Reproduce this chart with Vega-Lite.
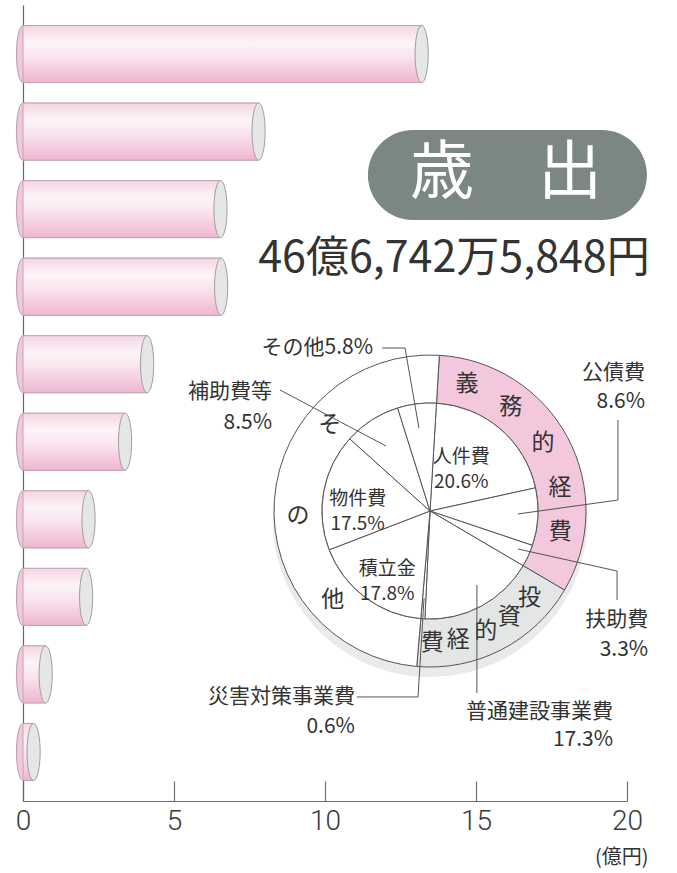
{
  "$schema": "https://vega.github.io/schema/vega-lite/v6.json",
  "width": 604,
  "height": 796,
  "autosize": {"type": "none"},
  "padding": {"left": 23, "top": 5, "right": 50, "bottom": 72},
  "background": "white",
  "config": {"view": {"stroke": null}, "font": "Noto Sans CJK JP"},
  "datasets": {
    "bars": [
      {"item": "1", "val": 13.2}, {"item": "2", "val": 7.8}, {"item": "3", "val": 6.54},
      {"item": "4", "val": 6.56}, {"item": "5", "val": 4.11}, {"item": "6", "val": 3.38},
      {"item": "7", "val": 2.17}, {"item": "8", "val": 2.09}, {"item": "9", "val": 0.75},
      {"item": "10", "val": 0.35}
    ],
    "pie": [
      {"name": "人件費", "pct": 20.6, "ord": 1}, {"name": "公債費", "pct": 8.6, "ord": 2},
      {"name": "扶助費", "pct": 3.3, "ord": 3}, {"name": "普通建設事業費", "pct": 17.3, "ord": 4},
      {"name": "災害対策事業費", "pct": 0.6, "ord": 5}, {"name": "積立金", "pct": 17.8, "ord": 6},
      {"name": "物件費", "pct": 17.5, "ord": 7}, {"name": "補助費等", "pct": 8.5, "ord": 8},
      {"name": "その他", "pct": 5.8, "ord": 9}
    ],
    "ring": [
      {"grp": "義務的経費", "pct": 32.5, "ord": 1},
      {"grp": "投資的経費", "pct": 17.9, "ord": 2},
      {"grp": "その他", "pct": 49.6, "ord": 3}
    ],
    "plab": [
      {"t": "人件費\n20.6%", "th": 7.4, "r": 40},
      {"t": "物件費\n17.5%", "th": 76.6, "r": 47},
      {"t": "積立金\n17.8%", "th": 59.2, "r": 46}
    ],
    "rchar": [
      {"c": "義", "th": 3.56}, {"c": "務", "th": 9.53}, {"c": "的", "th": 15.39},
      {"c": "経", "th": 21.28}, {"c": "費", "th": 26.64},
      {"c": "投", "th": 35.44}, {"c": "資", "th": 38.78}, {"c": "的", "th": 42.11},
      {"c": "経", "th": 45.61}, {"c": "費", "th": 48.78},
      {"c": "他", "th": 62.22}, {"c": "の", "th": 73.5}, {"c": "そ", "th": 85.31}
    ],
    "leaders": [
      {"id": 1, "o": 1, "x": 11.89, "y": 43.09}, {"id": 1, "o": 2, "x": 12.65, "y": 43.09}, {"id": 1, "o": 3, "x": 13.11, "y": 53.14},
      {"id": 2, "o": 1, "x": 8.51, "y": 48.37}, {"id": 2, "o": 2, "x": 12.02, "y": 55.4},
      {"id": 3, "o": 1, "x": 19.7, "y": 52.14}, {"id": 3, "o": 2, "x": 19.7, "y": 62.19}, {"id": 3, "o": 3, "x": 16.39, "y": 63.94},
      {"id": 4, "o": 1, "x": 16.39, "y": 68.34}, {"id": 4, "o": 2, "x": 19.67, "y": 71.11}, {"id": 4, "o": 3, "x": 19.67, "y": 74.75},
      {"id": 5, "o": 1, "x": 11.06, "y": 86.93}, {"id": 5, "o": 2, "x": 13.08, "y": 86.93}, {"id": 5, "o": 3, "x": 13.28, "y": 74.5},
      {"id": 6, "o": 1, "x": 15.03, "y": 72.86}, {"id": 6, "o": 2, "x": 15.03, "y": 86.43}
    ],
    "olab": [
      {"t": "その他5.8%", "x": 11.59, "y": 43.09},
      {"t": "補助費等", "x": 8.245, "y": 48.62},
      {"t": "8.5%", "x": 8.245, "y": 52.51},
      {"t": "公債費", "x": 20.6, "y": 46.23},
      {"t": "8.6%", "x": 20.6, "y": 49.87},
      {"t": "扶助費", "x": 20.7, "y": 77.26},
      {"t": "3.3%", "x": 20.7, "y": 81.03},
      {"t": "災害対策事業費", "x": 10.99, "y": 86.93},
      {"t": "0.6%", "x": 10.99, "y": 90.7},
      {"t": "普通建設事業費", "x": 19.54, "y": 88.82},
      {"t": "17.3%", "x": 19.54, "y": 92.34}
    ]
  },
  "layer": [
    {
      "data": {"name": "bars"},
      "layer": [
        {
          "mark": {"type": "bar", "orient": "horizontal", "stroke": "#c3a3b3", "strokeWidth": 1,
            "color": {"gradient": "linear", "x1": 0, "y1": 0, "x2": 0, "y2": 1,
              "stops": [{"offset": 0, "color": "#f5d5e4"}, {"offset": 0.3, "color": "#fdf4f8"}, {"offset": 0.55, "color": "#f9e3ee"}, {"offset": 1, "color": "#efb6d1"}]}},
          "encoding": {
            "x": {"field": "val", "type": "quantitative", "scale": {"domain": [0, 20], "nice": false},
              "axis": {"values": [0, 5, 10, 15, 20], "title": null, "grid": false, "domainColor": "#707070", "domainWidth": 1.2,
                "tickColor": "#707070", "tickWidth": 1.2, "tickSize": -20, "labelPadding": 26, "labelFontSize": 28,
                "labelColor": "#3a3a3a", "labelFont": "Roboto", "labelFontWeight": 300, "labelFlush": false}},
            "y": {"field": "item", "type": "nominal", "sort": null, "scale": {"paddingInner": 0.265, "paddingOuter": 0.265},
              "axis": {"labels": false, "ticks": false, "title": null, "domainColor": "#666", "domainWidth": 1.2}}
          }
        },
        {
          "mark": {"type": "point", "filled": true, "opacity": 1, "fill": "#f1c9dc", "stroke": "#b99aaa", "strokeWidth": 1,
            "shape": "M0,-1 C0.127,-1 0.23,-0.552 0.23,0 C0.23,0.552 0.127,1 0,1 C-0.127,1 -0.23,0.552 -0.23,0 C-0.23,-0.552 -0.127,-1 0,-1 Z",
            "size": 3249, "zindex": 0},
          "encoding": {
            "x": {"datum": 0, "type": "quantitative"},
            "y": {"field": "item", "type": "nominal", "sort": null}
          }
        },
        {
          "mark": {"type": "bar", "orient": "horizontal", "stroke": "#c3a3b3", "strokeWidth": 1,
            "color": {"gradient": "linear", "x1": 0, "y1": 0, "x2": 0, "y2": 1,
              "stops": [{"offset": 0, "color": "#f5d5e4"}, {"offset": 0.3, "color": "#fdf4f8"}, {"offset": 0.55, "color": "#f9e3ee"}, {"offset": 1, "color": "#efb6d1"}]}},
          "encoding": {
            "x": {"field": "val", "type": "quantitative"},
            "y": {"field": "item", "type": "nominal", "sort": null}
          }
        },
        {
          "mark": {"type": "point", "filled": true, "opacity": 1, "fill": "#e5e7e7", "stroke": "#9c9c9c", "strokeWidth": 1,
            "shape": "M0,-1 C0.127,-1 0.23,-0.552 0.23,0 C0.23,0.552 0.127,1 0,1 C-0.127,1 -0.23,0.552 -0.23,0 C-0.23,-0.552 -0.127,-1 0,-1 Z",
            "size": 3249},
          "encoding": {
            "x": {"field": "val", "type": "quantitative"},
            "y": {"field": "item", "type": "nominal", "sort": null}
          }
        }
      ]
    },
    {
      "layer": [
        {
          "data": {"values": [{"pct": 100}]},
          "mark": {"type": "arc", "fill": "#c4c4c4", "opacity": 0.35},
          "encoding": {
            "theta": {"field": "pct", "type": "quantitative", "stack": true, "scale": {"domain": [0, 100], "range": [0.06, 6.3432]}},
            "radius": {"value": 157},
            "x": {"datum": 13.48, "type": "quantitative"},
            "y": {"datum": 64.7, "type": "quantitative", "scale": {"domain": [0, 100], "reverse": true}, "axis": null}
          }
        },
        {
          "data": {"name": "ring"},
          "mark": {"type": "arc", "stroke": "#555", "strokeWidth": 1},
          "encoding": {
            "theta": {"field": "pct", "type": "quantitative", "stack": true, "scale": {"domain": [0, 100], "range": [0.06, 6.3432]}},
            "order": {"field": "ord", "type": "quantitative"},
            "color": {"field": "grp", "type": "nominal", "legend": null,
              "scale": {"domain": ["義務的経費", "投資的経費", "その他"], "range": ["#f4c8dc", "#e3e6e5", "#ffffff"]}},
            "radius": {"value": 156},
            "radius2": {"value": 108},
            "x": {"datum": 13.477, "type": "quantitative"},
            "y": {"datum": 63.57, "type": "quantitative", "scale": {"domain": [0, 100], "reverse": true}, "axis": null}
          }
        },
        {
          "data": {"name": "pie"},
          "mark": {"type": "arc", "stroke": "#555", "strokeWidth": 1, "fill": "#ffffff"},
          "encoding": {
            "theta": {"field": "pct", "type": "quantitative", "stack": true, "scale": {"domain": [0, 100], "range": [0.06, 6.3432]}},
            "order": {"field": "ord", "type": "quantitative"},
            "radius": {"value": 108},
            "x": {"datum": 13.477, "type": "quantitative"},
            "y": {"datum": 63.57, "type": "quantitative", "scale": {"domain": [0, 100], "reverse": true}, "axis": null}
          }
        },
        {
          "data": {"name": "plab"},
          "mark": {"type": "text", "fontSize": 19, "color": "#333", "lineBreak": "\n", "align": "center", "baseline": "middle", "lineHeight": 25},
          "encoding": {
            "text": {"field": "t"},
            "theta": {"field": "th", "type": "quantitative", "stack": false, "scale": {"domain": [0, 100], "range": [0.06, 6.3432]}},
            "radius": {"field": "r", "type": "quantitative", "scale": {"type": "linear", "domain": [0, 100], "range": [0, 156], "zero": true}},
            "x": {"datum": 13.477, "type": "quantitative"},
            "y": {"datum": 63.57, "type": "quantitative", "scale": {"domain": [0, 100], "reverse": true}, "axis": null}
          }
        },
        {
          "data": {"name": "rchar"},
          "mark": {"type": "text", "fontSize": 23, "color": "#333", "align": "center", "baseline": "middle", "radius": 132},
          "encoding": {
            "text": {"field": "c"},
            "theta": {"field": "th", "type": "quantitative", "stack": false, "scale": {"domain": [0, 100], "range": [0.06, 6.3432]}},
            "x": {"datum": 13.477, "type": "quantitative"},
            "y": {"datum": 63.57, "type": "quantitative", "scale": {"domain": [0, 100], "reverse": true}, "axis": null}
          }
        },
        {
          "data": {"name": "leaders"},
          "mark": {"type": "line", "color": "#555", "strokeWidth": 1},
          "encoding": {
            "x": {"field": "x", "type": "quantitative"},
            "y": {"field": "y", "type": "quantitative", "scale": {"domain": [0, 100], "reverse": true}, "axis": null},
            "detail": {"field": "id"},
            "order": {"field": "o", "type": "quantitative"}
          }
        },
        {
          "data": {"name": "olab"},
          "mark": {"type": "text", "fontSize": 21, "color": "#333", "align": "right", "baseline": "middle"},
          "encoding": {
            "text": {"field": "t"},
            "x": {"field": "x", "type": "quantitative"},
            "y": {"field": "y", "type": "quantitative", "scale": {"domain": [0, 100], "reverse": true}, "axis": null}
          }
        },
        {
          "data": {"values": [{"t": "歳出"}]},
          "mark": {"type": "rect", "fill": "#7b8782", "cornerRadius": 45},
          "encoding": {
            "x": {"datum": 11.42, "type": "quantitative"},
            "x2": {"datum": 20.66},
            "y": {"datum": 15.7, "type": "quantitative", "scale": {"domain": [0, 100], "reverse": true}, "axis": null},
            "y2": {"datum": 27.01}
          }
        },
        {
          "data": {"values": [{"t": "歳　出"}]},
          "mark": {"type": "text", "fontSize": 64, "color": "#ffffff", "align": "center", "baseline": "middle"},
          "encoding": {
            "text": {"field": "t"},
            "x": {"datum": 15.99, "type": "quantitative"},
            "y": {"datum": 21.23, "type": "quantitative", "scale": {"domain": [0, 100], "reverse": true}, "axis": null}
          }
        },
        {
          "data": {"values": [{"t": "46億6,742万5,848円"}]},
          "mark": {"type": "text", "fontSize": 43, "color": "#333", "align": "center", "baseline": "middle"},
          "encoding": {
            "text": {"field": "t"},
            "x": {"datum": 14.27, "type": "quantitative"},
            "y": {"datum": 31.9, "type": "quantitative", "scale": {"domain": [0, 100], "reverse": true}, "axis": null}
          }
        },
        {
          "data": {"values": [{"t": "(億円)"}]},
          "mark": {"type": "text", "fontSize": 20, "color": "#333", "align": "center", "baseline": "middle"},
          "encoding": {
            "text": {"field": "t"},
            "x": {"datum": 19.83, "type": "quantitative"},
            "y": {"datum": 107.2, "type": "quantitative", "scale": {"domain": [0, 100], "reverse": true}, "axis": null}
          }
        }
      ]
    }
  ],
  "resolve": {"scale": {"y": "independent"}}
}
